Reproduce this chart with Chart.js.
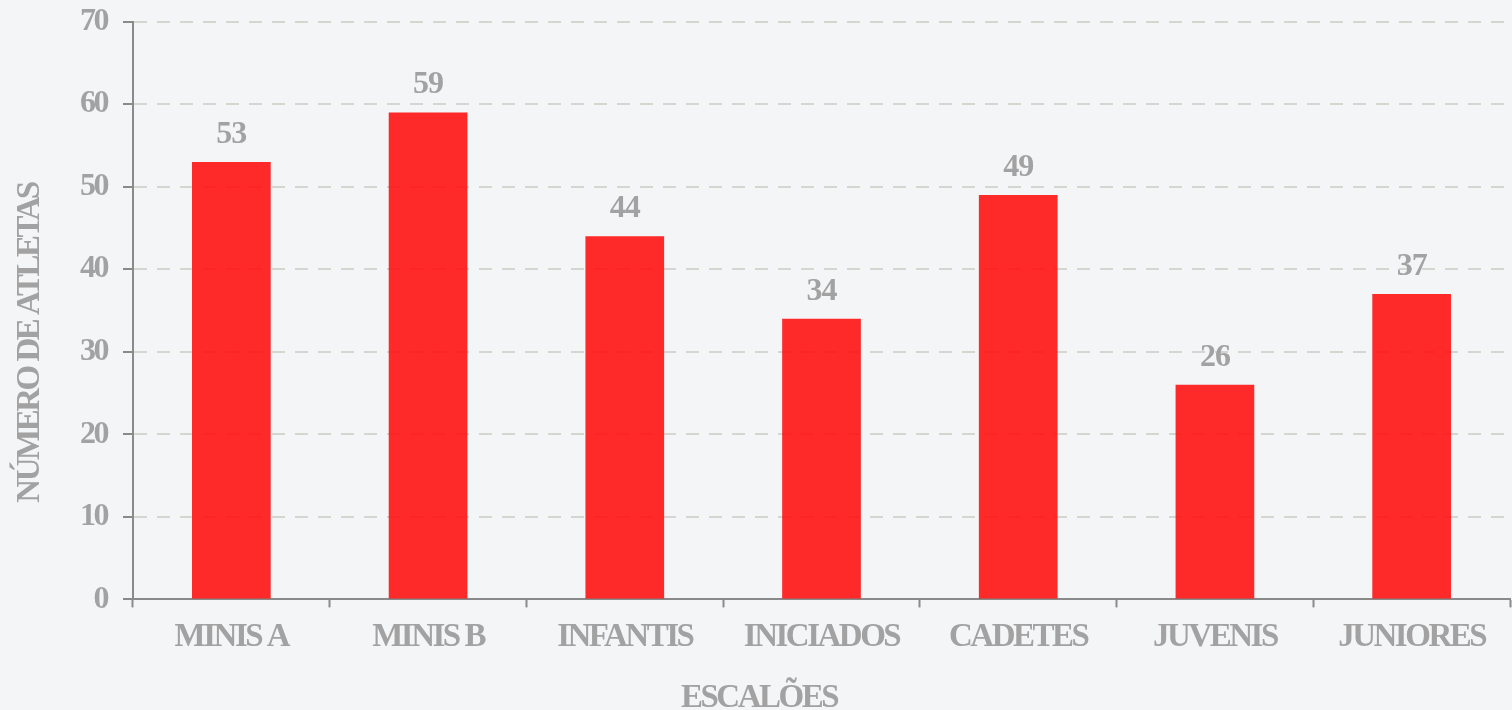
<!DOCTYPE html>
<html>
<head>
<meta charset="utf-8">
<script src="https://cdn.jsdelivr.net/npm/chart.js@4.4.0/dist/chart.umd.min.js"></script>
<style>
  html, body { margin: 0; padding: 0; background: #f4f5f7; }
  #wrap { width: 1512px; height: 710px; }
</style>
</head>
<body>
<div id="wrap"><canvas id="grafico"></canvas></div>
<script>
// dados do gráfico
const escaloes = ['MINIS A', 'MINIS B', 'INFANTIS', 'INICIADOS', 'CADETES', 'JUVENIS', 'JUNIORES'];
const atletas = [53, 59, 44, 34, 49, 26, 37];
const ticksY = [0, 10, 20, 30, 40, 50, 60, 70];
const tituloX = 'ESCALÕES';
const tituloY = 'NÚMERO DE ATLETAS';

const cinza = '#a2a2a2';
const fonte = '"Liberation Serif", "Times New Roman", serif';

// letras mais juntas, como no original
const espacamento = {
    id: 'espacamento',
    beforeUpdate(chart) { chart.ctx.letterSpacing = '-2.5px'; },
    beforeDraw(chart) { chart.ctx.letterSpacing = '-2.5px'; }
};

// valores por cima das barras + títulos dos eixos
const rotulos = {
    id: 'rotulos',
    afterDraw(chart) {
        const ctx = chart.ctx;
        const meta = chart.getDatasetMeta(0);
        ctx.save();
        ctx.fillStyle = cinza;
        ctx.textAlign = 'center';
        ctx.textBaseline = 'alphabetic';
        ctx.letterSpacing = '-1px';
        ctx.font = 'bold 32px ' + fonte;
        meta.data.forEach((bar, i) => {
            ctx.fillText(atletas[i], bar.x, bar.y - 19);
        });

        ctx.letterSpacing = '-2.5px';
        ctx.font = 'bold 33px ' + fonte;
        ctx.fillText(tituloX, chart.width / 2 + 3, 707);

        ctx.translate(39, chart.height / 2 - 12);
        ctx.rotate(-Math.PI / 2);
        ctx.fillText(tituloY, 0, 0);
        ctx.restore();
    }
};

const ctx = document.getElementById('grafico').getContext('2d');
const grafico = new Chart(ctx, {
    type: 'bar',
    data: {
        labels: escaloes,
        datasets: [{
            label: tituloY,
            data: atletas,
            backgroundColor: 'rgba(255, 10, 10, 0.87)',
            borderWidth: 0,
            categoryPercentage: 1,
            barPercentage: 0.4
        }]
    },
    options: {
        responsive: true,
        maintainAspectRatio: false,
        animation: false,
        layout: { padding: { top: 0, right: 2, left: 64, bottom: 43 } },
        plugins: {
            legend: { display: false },
            tooltip: { enabled: false }
        },
        scales: {
            x: {
                grid: {
                    display: true,
                    drawOnChartArea: false,
                    drawTicks: true,
                    tickLength: 8,
                    tickColor: '#8a8a8a',
                    tickWidth: 2
                },
                border: { color: '#8a8a8a', width: 2 },
                ticks: {
                    color: cinza,
                    font: { family: fonte, size: 33, weight: 'bold' },
                    padding: 10
                }
            },
            y: {
                min: 0,
                max: 70,
                afterBuildTicks(axis) {
                    axis.ticks = ticksY.map(v => ({ value: v }));
                },
                grid: {
                    color: '#d6d6d0',
                    lineWidth: 2,
                    tickColor: '#8a8a8a',
                    tickWidth: 2,
                    tickLength: 10,
                    tickBorderDash: []
                },
                border: { color: '#8a8a8a', width: 2, dash: [13, 10] },
                ticks: {
                    color: cinza,
                    font: { family: fonte, size: 32, weight: 'bold', lineHeight: 0.35 },
                    padding: 16
                }
            }
        }
    },
    plugins: [espacamento, rotulos]
});
</script>
</body>
</html>
